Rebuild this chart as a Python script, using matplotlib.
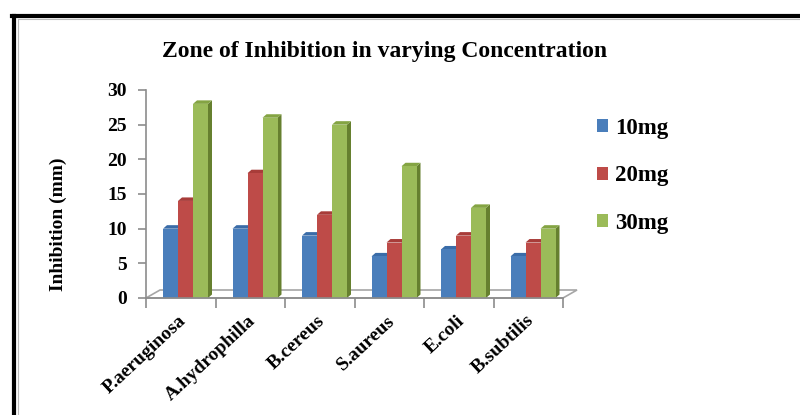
import matplotlib
matplotlib.use("Agg")
import matplotlib.pyplot as plt
from matplotlib.patches import Polygon, Patch
from matplotlib.lines import Line2D
from matplotlib import transforms
import numpy as np

categories = ["P.aeruginosa", "A.hydrophilla", "B.cereus", "S.aureus", "E.coli", "B.subtilis"]
series_names = ["10mg", "20mg", "30mg"]
v10 = [10, 10, 9, 6, 7, 6]
v20 = [14, 18, 12, 8, 9, 8]
v30 = [28, 26, 25, 19, 13, 10]
yticks = [0, 5, 10, 15, 20, 25, 30]

front_cols = ["#4A7EBB", "#BE4B48", "#9BBB59"]
side_cols = ["#2C5586", "#8A2F2C", "#66802F"]
top_cols = ["#3A6CA8", "#A83C39", "#84A443"]

plt.rcParams['font.family'] = ['Liberation Serif', 'DejaVu Serif']
plt.rcParams['font.weight'] = 'bold'

W, H = 800, 415
fig = plt.figure(figsize=(W / 100, H / 100), dpi=100)
fig.patch.set_facecolor("white")

ax_l, ax_r, ax_t, ax_b = 146, 563, 90, 298
ax = fig.add_axes([ax_l / W, 1 - ax_b / H, (ax_r - ax_l) / W, (ax_b - ax_t) / H])
ax.set_xlim(0, 6)
ax.set_ylim(0, 30)
ax.patch.set_alpha(0)

pxx = (ax_r - ax_l) / 6.0
pxy = (ax_b - ax_t) / 30.0

# floor (pseudo 3D)
fdx, fdy = 14 / pxx, 8 / pxy
floor = Polygon([(0, 0), (6, 0), (6 + fdx, fdy), (0 + fdx, fdy)], closed=True,
                facecolor="white", edgecolor="#A6A6A6", lw=1.2, clip_on=False, zorder=1)
ax.add_patch(floor)

# bars
bw = 15 / pxx
sdx, sdy = 4 / pxx, 3.5 / pxy
start = 17 / pxx
z = 2
for i in range(len(categories)):
    for j, vals in enumerate([v10, v20, v30]):
        v = vals[i]
        x0 = i + start + j * bw
        x1 = x0 + bw
        side = Polygon([(x1, 0), (x1 + sdx, sdy), (x1 + sdx, v + sdy), (x1, v)], closed=True,
                       facecolor=side_cols[j], edgecolor="none", clip_on=False, zorder=z)
        top = Polygon([(x0, v), (x1, v), (x1 + sdx, v + sdy), (x0 + sdx, v + sdy)], closed=True,
                      facecolor=top_cols[j], edgecolor="none", clip_on=False, zorder=z)
        ax.add_patch(side)
        ax.add_patch(top)
        ax.bar([x0], [v], width=bw, align='edge', color=front_cols[j], edgecolor="none",
               zorder=z + 1, clip_on=False)
        z += 2

# axes styling
for s in ["top", "right"]:
    ax.spines[s].set_visible(False)
ax.spines["left"].set_color("#8C8C8C")
ax.spines["left"].set_linewidth(1.2)
ax.spines["bottom"].set_color("#8C8C8C")
ax.spines["bottom"].set_linewidth(1.2)
ax.spines["bottom"].set_zorder(50)

ax.set_yticks(yticks)
ax.set_yticklabels([str(t) for t in yticks], fontsize=14, fontweight='bold')
ax.tick_params(axis='y', direction='out', length=6, width=1.2, color="#8C8C8C", pad=8)

ax.set_xticks(np.arange(0, 7))
ax.set_xticklabels([])
ax.tick_params(axis='x', which='major', direction='out', length=7, width=1.2, color="#8C8C8C")
ax.set_xticks(np.arange(len(categories)) + 0.5, minor=True)
ax.set_xticklabels(categories, minor=True, rotation=43, ha='right', rotation_mode='anchor',
                   fontsize=14, fontweight='bold')
ax.tick_params(axis='x', which='minor', length=0, pad=10)
offset = transforms.ScaledTranslation(-3 / 100, 0, fig.dpi_scale_trans)
for lab in ax.get_xticklabels(minor=True):
    lab.set_transform(lab.get_transform() + offset)

ax.set_ylabel("Inhibition (mm)", fontsize=14, fontweight='bold')
ax.yaxis.set_label_coords((67 - ax_l) / (ax_r - ax_l), (ax_b - 224) / (ax_b - ax_t))

fig.text(385 / W, 1 - 52 / H, "Zone of Inhibition in varying Concentration",
         ha='center', va='center', fontsize=17, fontweight='bold')

handles = [Patch(facecolor=c, edgecolor='none') for c in front_cols]
leg = fig.legend(handles, series_names, loc='upper left',
                 bbox_to_anchor=(597 / W, 1 - 118 / H), frameon=False,
                 prop={'family': 'Liberation Serif', 'weight': 'bold', 'size': 16.5},
                 handlelength=0.5, handleheight=0.5, handletextpad=0.3,
                 labelspacing=1.15, borderpad=0, borderaxespad=0)

# image frame
fig.add_artist(Line2D([12 / W, 1], [1 - 16 / H, 1 - 16 / H], color="black", lw=3,
                      transform=fig.transFigure))
fig.add_artist(Line2D([14 / W, 14 / W], [0, 1 - 16 / H], color="black", lw=3,
                      transform=fig.transFigure))
fig.add_artist(Line2D([17.5 / W, 1], [1 - 19 / H, 1 - 19 / H], color="#BBBBBB", lw=0.8,
                      transform=fig.transFigure))
fig.add_artist(Line2D([17.5 / W, 17.5 / W], [0, 1 - 19 / H], color="#BBBBBB", lw=0.8,
                      transform=fig.transFigure))

fig.savefig("out.png", dpi=100)
